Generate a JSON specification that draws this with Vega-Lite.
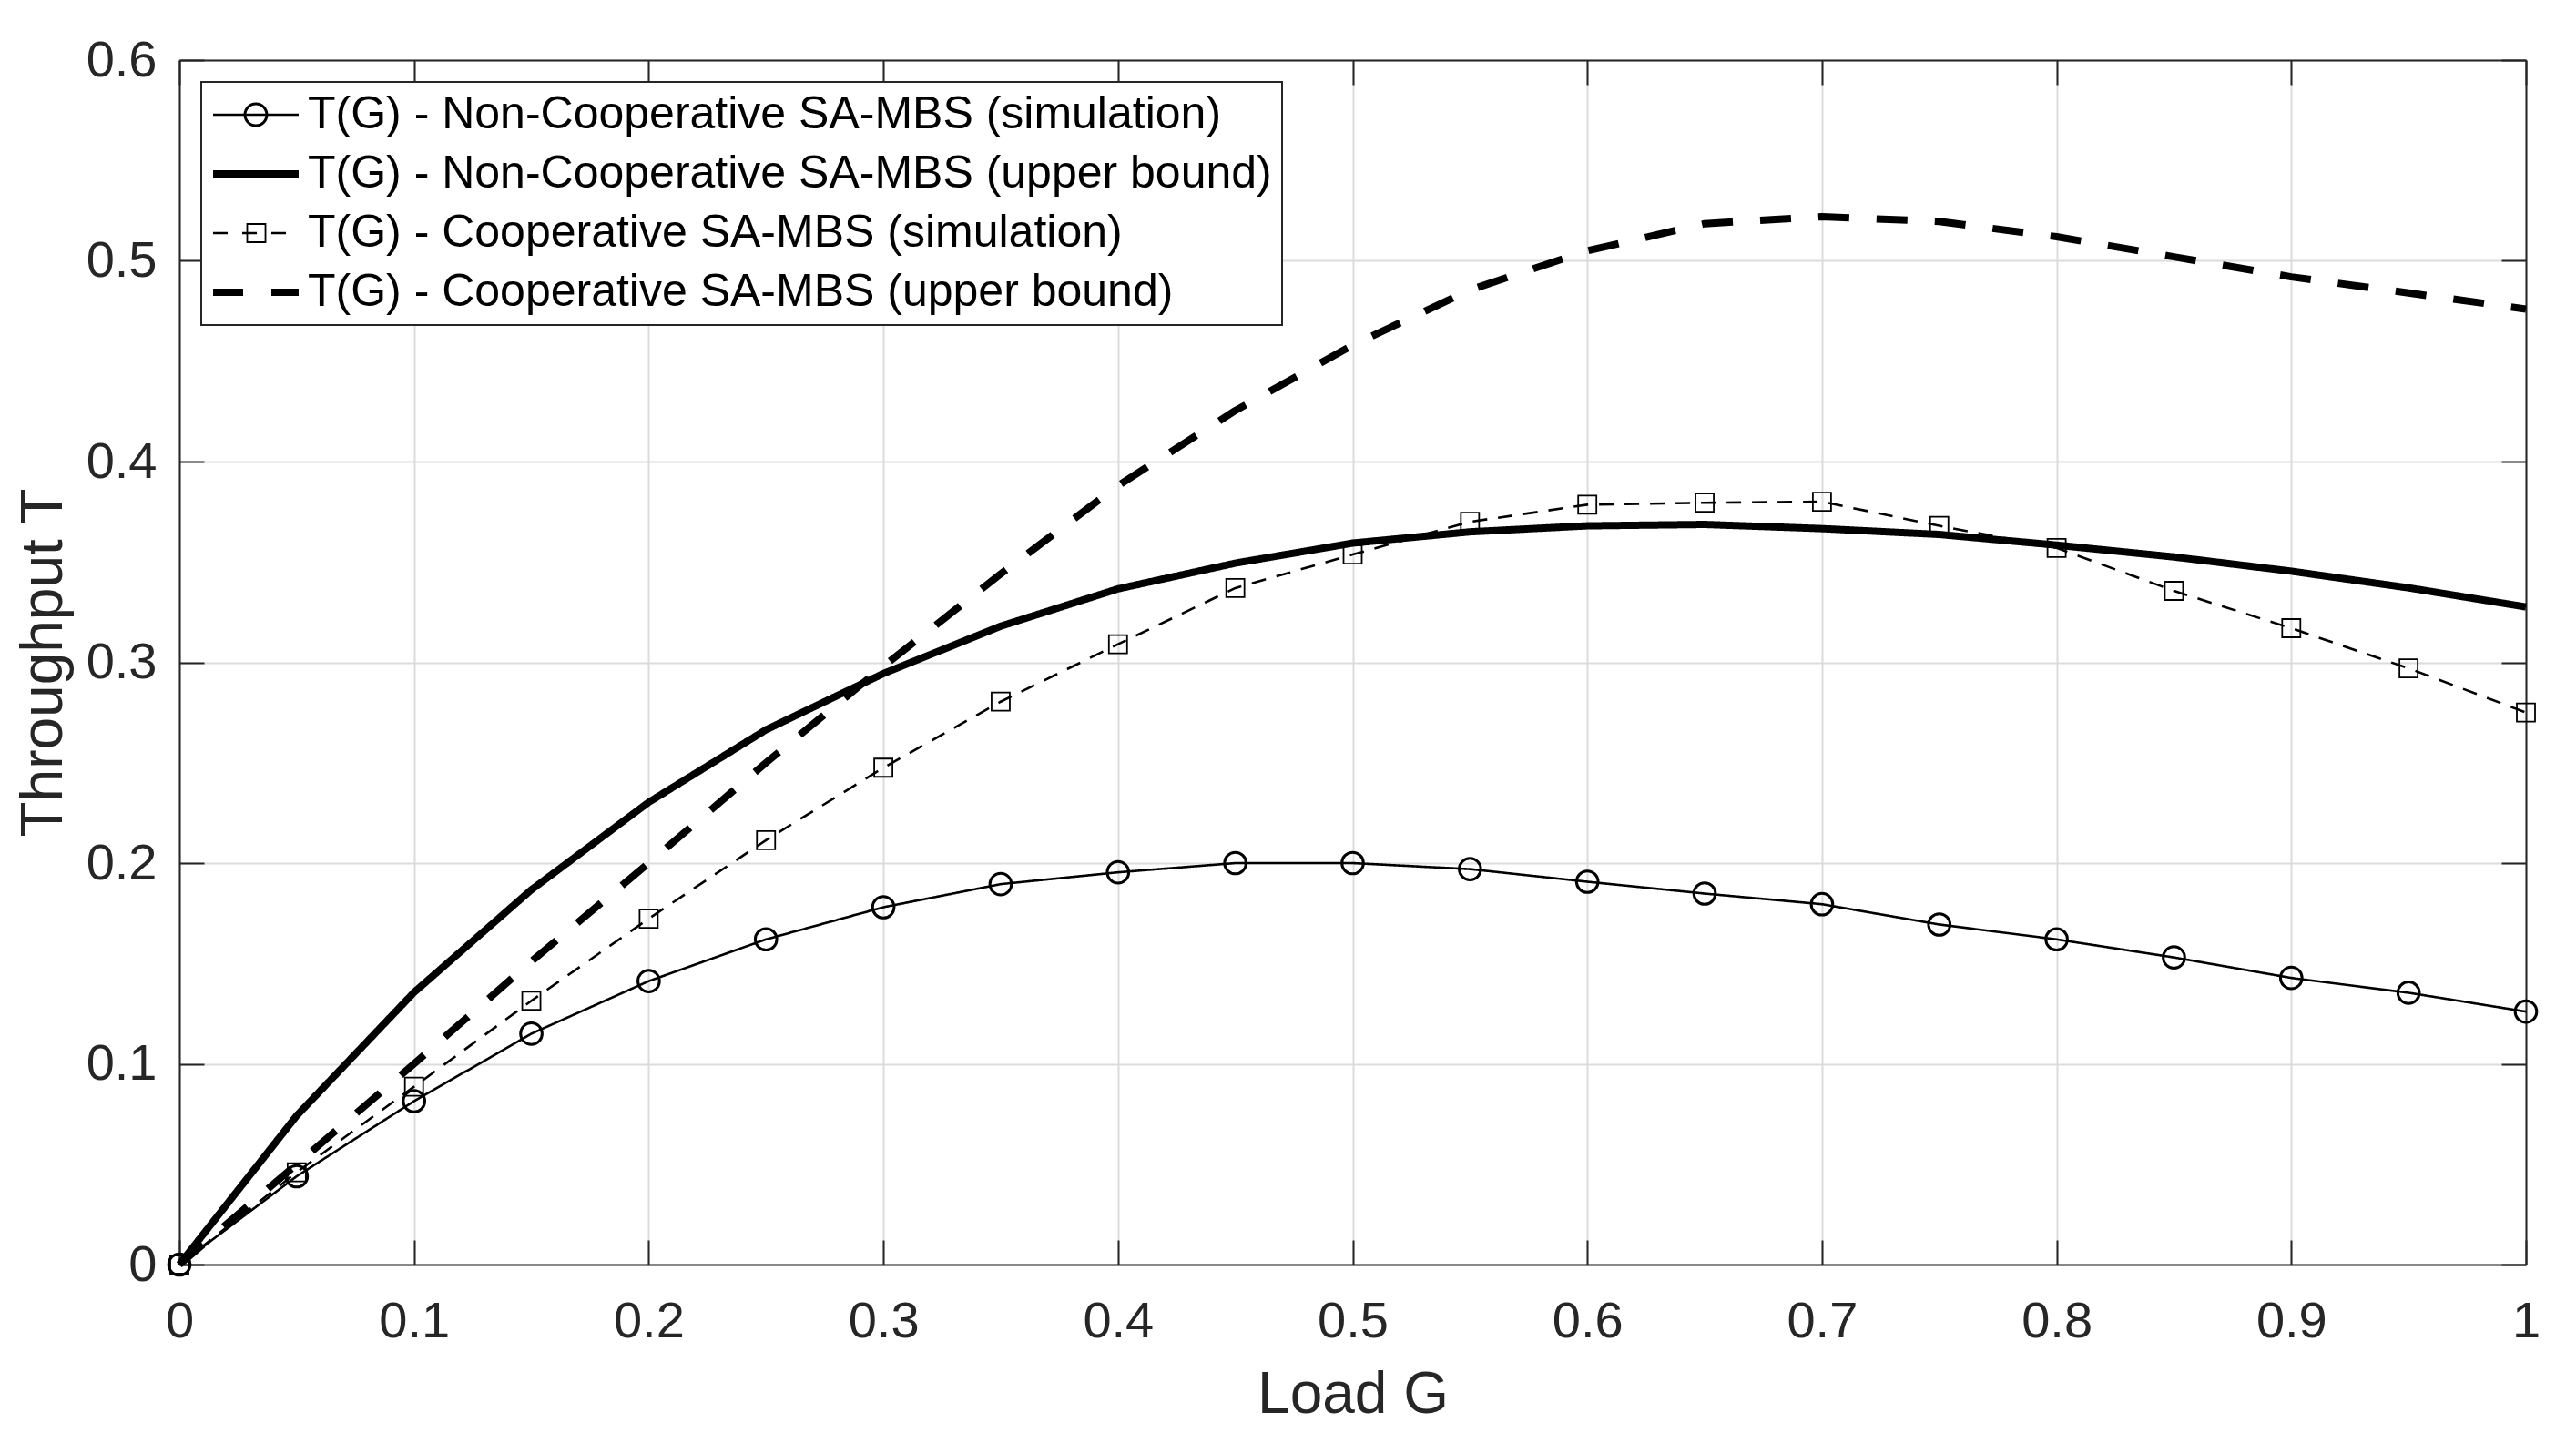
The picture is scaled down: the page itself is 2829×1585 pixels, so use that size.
{
  "$schema": "https://vega.github.io/schema/vega-lite/v6.json",
  "width": 2577,
  "height": 1323,
  "autosize": "none",
  "padding": {"left": 197, "top": 66, "right": 55, "bottom": 196},
  "background": "white",
  "config": {
    "view": {"stroke": null},
    "font": "Liberation Sans",
    "legend": {"strokeWidth": 2},
    "axis": {
      "labelFont": "Liberation Sans",
      "labelFontSize": 56,
      "labelColor": "#262626",
      "labelFlush": false,
      "titleFont": "Liberation Sans",
      "titleFontSize": 64,
      "titleFontWeight": "normal",
      "titleColor": "#262626",
      "domainColor": "#262626",
      "domainWidth": 2,
      "tickColor": "#262626",
      "tickWidth": 2,
      "tickSize": -27,
      "gridColor": "#dcdcdc",
      "gridWidth": 2
    }
  },
  "data": {
    "values": [
      {"G": 0, "T": 0, "series": "T(G) - Non-Cooperative SA-MBS (simulation)"},
      {"G": 0.05, "T": 0.044, "series": "T(G) - Non-Cooperative SA-MBS (simulation)"},
      {"G": 0.1, "T": 0.0814, "series": "T(G) - Non-Cooperative SA-MBS (simulation)"},
      {"G": 0.15, "T": 0.115, "series": "T(G) - Non-Cooperative SA-MBS (simulation)"},
      {"G": 0.2, "T": 0.1412, "series": "T(G) - Non-Cooperative SA-MBS (simulation)"},
      {"G": 0.25, "T": 0.162, "series": "T(G) - Non-Cooperative SA-MBS (simulation)"},
      {"G": 0.3, "T": 0.178, "series": "T(G) - Non-Cooperative SA-MBS (simulation)"},
      {"G": 0.35, "T": 0.1895, "series": "T(G) - Non-Cooperative SA-MBS (simulation)"},
      {"G": 0.4, "T": 0.1954, "series": "T(G) - Non-Cooperative SA-MBS (simulation)"},
      {"G": 0.45, "T": 0.2, "series": "T(G) - Non-Cooperative SA-MBS (simulation)"},
      {"G": 0.5, "T": 0.2, "series": "T(G) - Non-Cooperative SA-MBS (simulation)"},
      {"G": 0.55, "T": 0.197, "series": "T(G) - Non-Cooperative SA-MBS (simulation)"},
      {"G": 0.6, "T": 0.1907, "series": "T(G) - Non-Cooperative SA-MBS (simulation)"},
      {"G": 0.65, "T": 0.1848, "series": "T(G) - Non-Cooperative SA-MBS (simulation)"},
      {"G": 0.7, "T": 0.1795, "series": "T(G) - Non-Cooperative SA-MBS (simulation)"},
      {"G": 0.75, "T": 0.1694, "series": "T(G) - Non-Cooperative SA-MBS (simulation)"},
      {"G": 0.8, "T": 0.162, "series": "T(G) - Non-Cooperative SA-MBS (simulation)"},
      {"G": 0.85, "T": 0.153, "series": "T(G) - Non-Cooperative SA-MBS (simulation)"},
      {"G": 0.9, "T": 0.1428, "series": "T(G) - Non-Cooperative SA-MBS (simulation)"},
      {"G": 0.95, "T": 0.1354, "series": "T(G) - Non-Cooperative SA-MBS (simulation)"},
      {"G": 1, "T": 0.126, "series": "T(G) - Non-Cooperative SA-MBS (simulation)"},
      {"G": 0, "T": 0, "series": "T(G) - Non-Cooperative SA-MBS (upper bound)"},
      {"G": 0.05, "T": 0.0742, "series": "T(G) - Non-Cooperative SA-MBS (upper bound)"},
      {"G": 0.1, "T": 0.1356, "series": "T(G) - Non-Cooperative SA-MBS (upper bound)"},
      {"G": 0.15, "T": 0.1867, "series": "T(G) - Non-Cooperative SA-MBS (upper bound)"},
      {"G": 0.2, "T": 0.2303, "series": "T(G) - Non-Cooperative SA-MBS (upper bound)"},
      {"G": 0.25, "T": 0.2664, "series": "T(G) - Non-Cooperative SA-MBS (upper bound)"},
      {"G": 0.3, "T": 0.2944, "series": "T(G) - Non-Cooperative SA-MBS (upper bound)"},
      {"G": 0.35, "T": 0.318, "series": "T(G) - Non-Cooperative SA-MBS (upper bound)"},
      {"G": 0.4, "T": 0.3366, "series": "T(G) - Non-Cooperative SA-MBS (upper bound)"},
      {"G": 0.45, "T": 0.3494, "series": "T(G) - Non-Cooperative SA-MBS (upper bound)"},
      {"G": 0.5, "T": 0.3594, "series": "T(G) - Non-Cooperative SA-MBS (upper bound)"},
      {"G": 0.55, "T": 0.365, "series": "T(G) - Non-Cooperative SA-MBS (upper bound)"},
      {"G": 0.6, "T": 0.368, "series": "T(G) - Non-Cooperative SA-MBS (upper bound)"},
      {"G": 0.65, "T": 0.3687, "series": "T(G) - Non-Cooperative SA-MBS (upper bound)"},
      {"G": 0.7, "T": 0.3666, "series": "T(G) - Non-Cooperative SA-MBS (upper bound)"},
      {"G": 0.75, "T": 0.3637, "series": "T(G) - Non-Cooperative SA-MBS (upper bound)"},
      {"G": 0.8, "T": 0.3584, "series": "T(G) - Non-Cooperative SA-MBS (upper bound)"},
      {"G": 0.85, "T": 0.3525, "series": "T(G) - Non-Cooperative SA-MBS (upper bound)"},
      {"G": 0.9, "T": 0.3454, "series": "T(G) - Non-Cooperative SA-MBS (upper bound)"},
      {"G": 0.95, "T": 0.3371, "series": "T(G) - Non-Cooperative SA-MBS (upper bound)"},
      {"G": 1, "T": 0.3276, "series": "T(G) - Non-Cooperative SA-MBS (upper bound)"},
      {"G": 0, "T": 0, "series": "T(G) - Cooperative SA-MBS (simulation)"},
      {"G": 0.05, "T": 0.046, "series": "T(G) - Cooperative SA-MBS (simulation)"},
      {"G": 0.1, "T": 0.0886, "series": "T(G) - Cooperative SA-MBS (simulation)"},
      {"G": 0.15, "T": 0.1314, "series": "T(G) - Cooperative SA-MBS (simulation)"},
      {"G": 0.2, "T": 0.1723, "series": "T(G) - Cooperative SA-MBS (simulation)"},
      {"G": 0.25, "T": 0.2114, "series": "T(G) - Cooperative SA-MBS (simulation)"},
      {"G": 0.3, "T": 0.2475, "series": "T(G) - Cooperative SA-MBS (simulation)"},
      {"G": 0.35, "T": 0.2804, "series": "T(G) - Cooperative SA-MBS (simulation)"},
      {"G": 0.4, "T": 0.309, "series": "T(G) - Cooperative SA-MBS (simulation)"},
      {"G": 0.45, "T": 0.337, "series": "T(G) - Cooperative SA-MBS (simulation)"},
      {"G": 0.5, "T": 0.3537, "series": "T(G) - Cooperative SA-MBS (simulation)"},
      {"G": 0.55, "T": 0.37, "series": "T(G) - Cooperative SA-MBS (simulation)"},
      {"G": 0.6, "T": 0.3785, "series": "T(G) - Cooperative SA-MBS (simulation)"},
      {"G": 0.65, "T": 0.3795, "series": "T(G) - Cooperative SA-MBS (simulation)"},
      {"G": 0.7, "T": 0.38, "series": "T(G) - Cooperative SA-MBS (simulation)"},
      {"G": 0.75, "T": 0.368, "series": "T(G) - Cooperative SA-MBS (simulation)"},
      {"G": 0.8, "T": 0.357, "series": "T(G) - Cooperative SA-MBS (simulation)"},
      {"G": 0.85, "T": 0.3356, "series": "T(G) - Cooperative SA-MBS (simulation)"},
      {"G": 0.9, "T": 0.317, "series": "T(G) - Cooperative SA-MBS (simulation)"},
      {"G": 0.95, "T": 0.297, "series": "T(G) - Cooperative SA-MBS (simulation)"},
      {"G": 1, "T": 0.275, "series": "T(G) - Cooperative SA-MBS (simulation)"},
      {"G": 0, "T": 0, "series": "T(G) - Cooperative SA-MBS (upper bound)"},
      {"G": 0.05, "T": 0.05, "series": "T(G) - Cooperative SA-MBS (upper bound)"},
      {"G": 0.1, "T": 0.1, "series": "T(G) - Cooperative SA-MBS (upper bound)"},
      {"G": 0.15, "T": 0.151, "series": "T(G) - Cooperative SA-MBS (upper bound)"},
      {"G": 0.2, "T": 0.2, "series": "T(G) - Cooperative SA-MBS (upper bound)"},
      {"G": 0.25, "T": 0.25, "series": "T(G) - Cooperative SA-MBS (upper bound)"},
      {"G": 0.3, "T": 0.298, "series": "T(G) - Cooperative SA-MBS (upper bound)"},
      {"G": 0.35, "T": 0.344, "series": "T(G) - Cooperative SA-MBS (upper bound)"},
      {"G": 0.4, "T": 0.388, "series": "T(G) - Cooperative SA-MBS (upper bound)"},
      {"G": 0.45, "T": 0.4254, "series": "T(G) - Cooperative SA-MBS (upper bound)"},
      {"G": 0.5, "T": 0.458, "series": "T(G) - Cooperative SA-MBS (upper bound)"},
      {"G": 0.55, "T": 0.4855, "series": "T(G) - Cooperative SA-MBS (upper bound)"},
      {"G": 0.6, "T": 0.505, "series": "T(G) - Cooperative SA-MBS (upper bound)"},
      {"G": 0.65, "T": 0.5185, "series": "T(G) - Cooperative SA-MBS (upper bound)"},
      {"G": 0.7, "T": 0.522, "series": "T(G) - Cooperative SA-MBS (upper bound)"},
      {"G": 0.75, "T": 0.5196, "series": "T(G) - Cooperative SA-MBS (upper bound)"},
      {"G": 0.8, "T": 0.512, "series": "T(G) - Cooperative SA-MBS (upper bound)"},
      {"G": 0.85, "T": 0.502, "series": "T(G) - Cooperative SA-MBS (upper bound)"},
      {"G": 0.9, "T": 0.492, "series": "T(G) - Cooperative SA-MBS (upper bound)"},
      {"G": 0.95, "T": 0.484, "series": "T(G) - Cooperative SA-MBS (upper bound)"},
      {"G": 1, "T": 0.476, "series": "T(G) - Cooperative SA-MBS (upper bound)"}
    ]
  },
  "layer": [
    {
      "mark": {"type": "line", "color": "black", "strokeCap": "butt", "strokeJoin": "round"},
      "encoding": {
        "x": {
          "field": "G", "type": "quantitative",
          "scale": {"domain": [0, 1], "nice": false},
          "axis": {"title": "Load G", "values": [0, 0.1, 0.2, 0.3, 0.4, 0.5, 0.6, 0.7, 0.8, 0.9, 1], "format": "~g", "labelPadding": 62, "titlePadding": 21, "grid": true}
        },
        "y": {
          "field": "T", "type": "quantitative",
          "scale": {"domain": [0, 0.6], "nice": false},
          "axis": {"title": "Throughput T", "values": [0, 0.1, 0.2, 0.3, 0.4, 0.5, 0.6], "format": "~g", "labelPadding": 52, "titlePadding": 14, "grid": true}
        },
        "detail": {"field": "series", "type": "nominal"},
        "strokeDash": {
          "condition": [
            {"test": "datum.series === 'T(G) - Cooperative SA-MBS (simulation)'", "value": [16, 12]},
            {"test": "datum.series === 'T(G) - Cooperative SA-MBS (upper bound)'", "value": [34, 30]}
          ],
          "value": [1, 0]
        },
        "strokeWidth": {"condition": {"test": "indexof(datum.series, 'upper') >= 0", "value": 8}, "value": 2.6}
      }
    },
    {
      "transform": [{"filter": "datum.series === 'T(G) - Non-Cooperative SA-MBS (simulation)'"}],
      "mark": {"type": "point", "shape": "circle", "size": 560, "filled": false, "color": "black", "strokeWidth": 3, "opacity": 1},
      "encoding": {
        "x": {"field": "G", "type": "quantitative", "scale": {"domain": [0, 1], "nice": false}, "axis": null},
        "y": {"field": "T", "type": "quantitative", "scale": {"domain": [0, 0.6], "nice": false}, "axis": null}
      }
    },
    {
      "transform": [{"filter": "datum.series === 'T(G) - Cooperative SA-MBS (simulation)'"}],
      "mark": {"type": "point", "shape": "square", "size": 400, "filled": false, "color": "black", "strokeWidth": 1.8, "opacity": 1},
      "encoding": {
        "x": {"field": "G", "type": "quantitative", "scale": {"domain": [0, 1], "nice": false}, "axis": null},
        "y": {"field": "T", "type": "quantitative", "scale": {"domain": [0, 0.6], "nice": false}, "axis": null}
      }
    },
    {
      "transform": [{"filter": "false"}],
      "mark": {"type": "point", "filled": true, "color": "black", "size": 2304, "opacity": 1},
      "encoding": {
        "x": {"field": "G", "type": "quantitative", "scale": {"domain": [0, 1], "nice": false}, "axis": null},
        "y": {"field": "T", "type": "quantitative", "scale": {"domain": [0, 0.6], "nice": false}, "axis": null},
        "shape": {
          "field": "series", "type": "nominal",
          "scale": {
            "domain": ["T(G) - Non-Cooperative SA-MBS (simulation)", "T(G) - Non-Cooperative SA-MBS (upper bound)", "T(G) - Cooperative SA-MBS (simulation)", "T(G) - Cooperative SA-MBS (upper bound)"],
            "range": [
              "M-0.958,-0.054L2.958,-0.054L2.958,0.054L-0.958,0.054Z M1.5625,0A0.5625,0.5625 0 1 1 0.4375,0A0.5625,0.5625 0 1 1 1.5625,0Z M1.4375,0A0.4375,0.4375 0 1 0 0.5625,0A0.4375,0.4375 0 1 0 1.4375,0Z",
              "M-0.958,-0.167L2.958,-0.167L2.958,0.167L-0.958,0.167Z",
              "M-0.958,-0.054L-0.292,-0.054L-0.292,0.054L-0.958,0.054Z M0.375,-0.054L1.042,-0.054L1.042,0.054L0.375,0.054Z M1.708,-0.054L2.375,-0.054L2.375,0.054L1.708,0.054Z M0.566,-0.455L1.476,-0.455L1.476,0.455L0.566,0.455Z M0.641,-0.38L0.641,0.38L1.401,0.38L1.401,-0.38Z",
              "M-0.958,-0.167L0.417,-0.167L0.417,0.167L-0.958,0.167Z M1.708,-0.167L2.958,-0.167L2.958,0.167L1.708,0.167Z"
            ]
          },
          "legend": {
            "title": null,
            "orient": "top-left",
            "offset": 24,
            "padding": 11,
            "rowPadding": 15,
            "fillColor": "white",
            "strokeColor": "#262626",
            "labelFont": "Liberation Sans",
            "labelFontSize": 50,
            "labelColor": "black",
            "labelLimit": 3000,
            "labelOffset": 56,
            "symbolSize": 2304,
            "symbolOpacity": 1,
            "symbolStrokeWidth": 0,
            "symbolFillColor": "black"
          }
        }
      }
    },
    {
      "mark": {"type": "point", "opacity": 0},
      "encoding": {
        "x": {
          "field": "G", "type": "quantitative",
          "scale": {"domain": [0, 1], "nice": false},
          "axis": {"orient": "top", "title": null, "labels": false, "grid": false, "values": [0, 0.1, 0.2, 0.3, 0.4, 0.5, 0.6, 0.7, 0.8, 0.9, 1]}
        },
        "y": {
          "field": "T", "type": "quantitative",
          "scale": {"domain": [0, 0.6], "nice": false},
          "axis": {"orient": "right", "title": null, "labels": false, "grid": false, "values": [0, 0.1, 0.2, 0.3, 0.4, 0.5, 0.6]}
        }
      }
    }
  ],
  "resolve": {"axis": {"x": "independent", "y": "independent"}}
}
